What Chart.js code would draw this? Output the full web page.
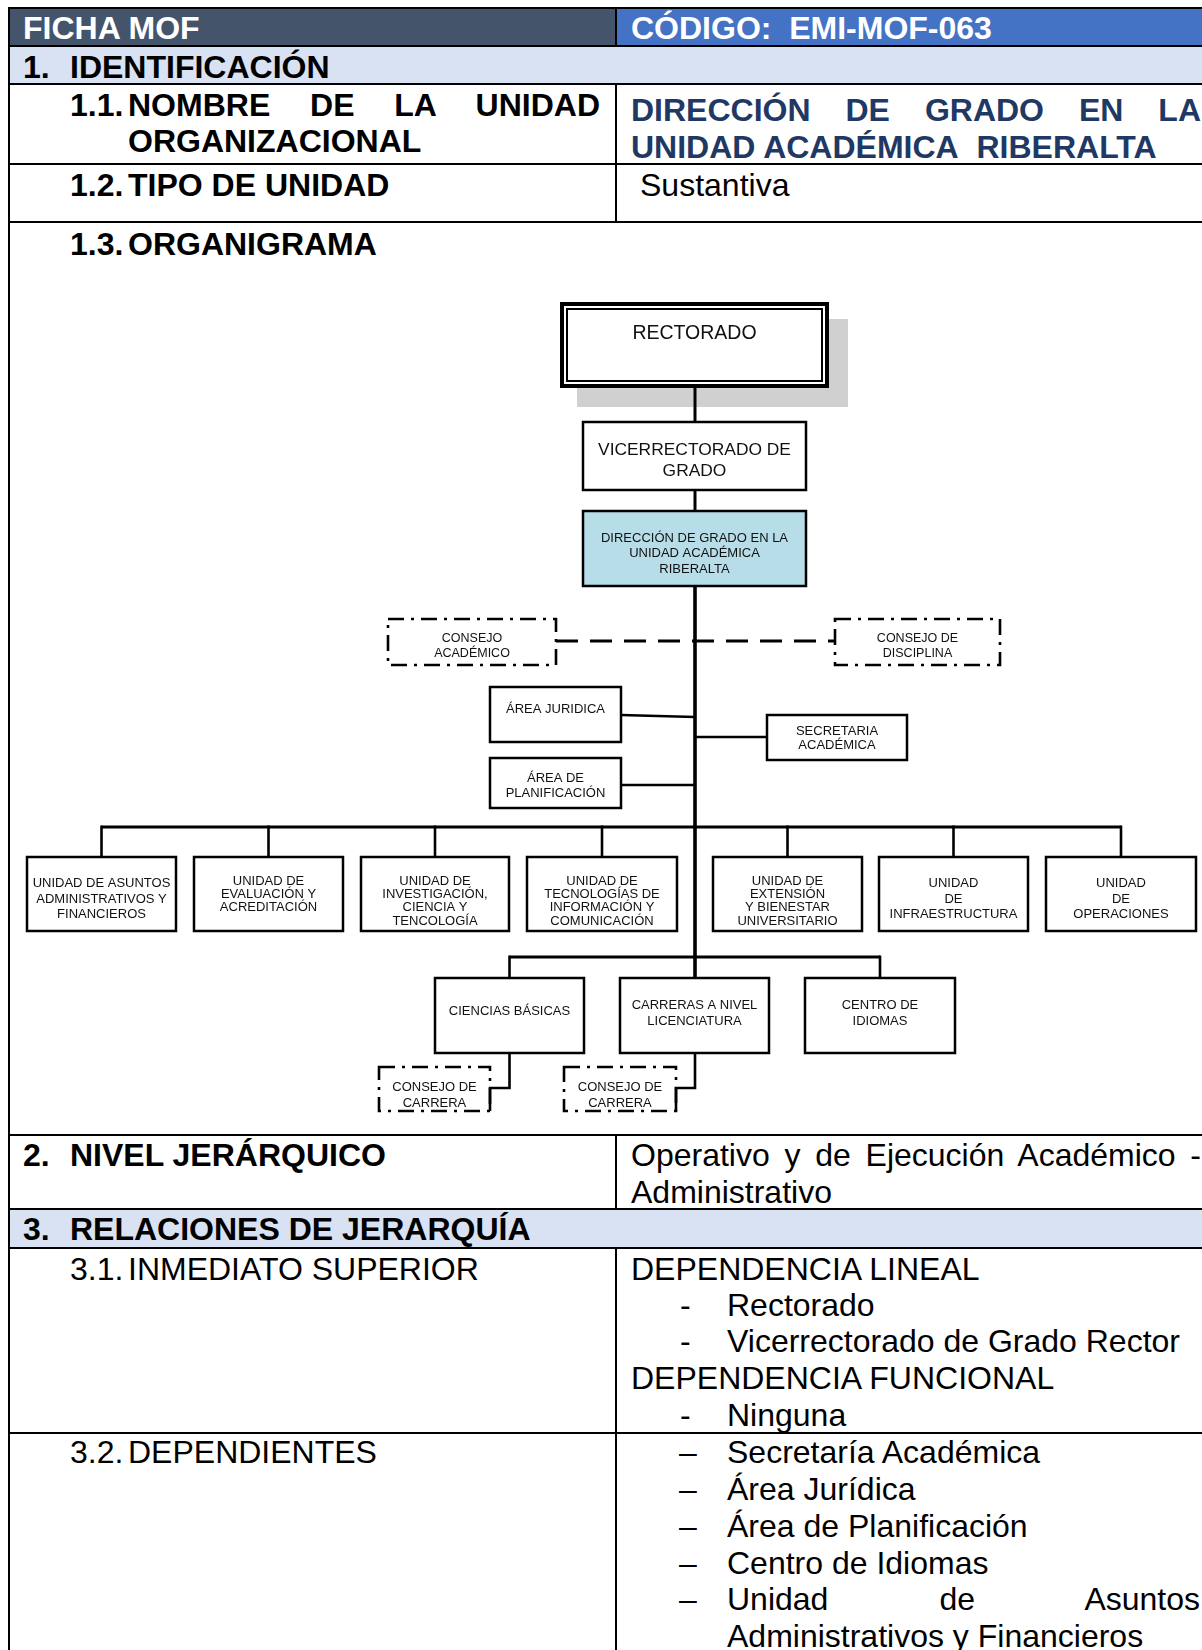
<!DOCTYPE html>
<html lang="es">
<head>
<meta charset="utf-8">
<title>Ficha MOF - EMI-MOF-063</title>
<script src="https://cdn.jsdelivr.net/npm/chart.js@4.4.1/dist/chart.umd.min.js"></script>
<style>
html, body { margin: 0; padding: 0; background: #fff; }
body { width: 1202px; height: 1650px; overflow: hidden; position: relative; font-family: "Liberation Sans", Arial, sans-serif; }
.bg, .hl, .vl, .t { position: absolute; }
.hl { height: 2px; background: #000; left: 8px; width: 1194px; }
.vl { width: 2px; background: #000; }
.t { font-size: 32px; line-height: 36.7px; color: #000; white-space: nowrap; }
.b { font-weight: bold; }
.j { white-space: normal; text-align: justify; }
#org { position: absolute; left: 0; top: 222px; }
</style>
</head>
<body>

<!-- fondos -->
<div class="bg" style="left:8px;top:8px;width:608px;height:38px;background:#44546A"></div>
<div class="bg" style="left:616px;top:8px;width:586px;height:38px;background:#4472C4"></div>
<div class="bg" style="left:8px;top:46px;width:1194px;height:38px;background:#D9E2F3"></div>
<div class="bg" style="left:8px;top:1209px;width:1194px;height:39px;background:#D9E2F3"></div>

<!-- lineas de la tabla -->
<div class="hl" style="top:7px"></div>
<div class="hl" style="top:45px"></div>
<div class="hl" style="top:83px"></div>
<div class="hl" style="top:163px"></div>
<div class="hl" style="top:221px"></div>
<div class="hl" style="top:1134px"></div>
<div class="hl" style="top:1208px"></div>
<div class="hl" style="top:1247px"></div>
<div class="hl" style="top:1432px"></div>
<div class="vl" style="left:8px;top:7px;height:1643px"></div>
<div class="vl" style="left:615px;top:7px;height:39px"></div>
<div class="vl" style="left:615px;top:83px;height:140px"></div>
<div class="vl" style="left:615px;top:1134px;height:75px"></div>
<div class="vl" style="left:615px;top:1247px;height:403px"></div>

<!-- textos -->
<div class="t b" style="left:23px;top:9.5px;color:#fff">FICHA MOF</div>
<div class="t b" style="left:631px;top:9.5px;color:#fff;white-space:pre">CÓDIGO:  EMI-MOF-063</div>

<div class="t b" style="left:23px;top:48.5px">1.</div>
<div class="t b" style="left:70px;top:48.5px">IDENTIFICACIÓN</div>

<div class="t b" style="left:70px;top:87px">1.1.</div>
<div class="t b j" style="left:128px;top:87px;width:472px;line-height:36px">NOMBRE DE LA UNIDAD ORGANIZACIONAL</div>
<div class="t b j" style="left:631px;top:92px;width:570px;color:#1F3864">DIRECCIÓN DE GRADO EN LA UNIDAD ACADÉMICA&nbsp; RIBERALTA</div>

<div class="t b" style="left:70px;top:166.5px">1.2.</div>
<div class="t b" style="left:128px;top:166.5px">TIPO DE UNIDAD</div>
<div class="t" style="left:640px;top:166.5px">Sustantiva</div>

<div class="t b" style="left:70px;top:225.5px">1.3.</div>
<div class="t b" style="left:128px;top:225.5px">ORGANIGRAMA</div>

<div class="t b" style="left:23px;top:1136.5px">2.</div>
<div class="t b" style="left:70px;top:1136.5px">NIVEL JERÁRQUICO</div>
<div class="t j" style="left:631px;top:1136.5px;width:570px;line-height:37.8px">Operativo y de Ejecución Académico - Administrativo</div>

<div class="t b" style="left:23px;top:1210.5px">3.</div>
<div class="t b" style="left:70px;top:1210.5px">RELACIONES DE JERARQUÍA</div>

<div class="t" style="left:70px;top:1250.5px">3.1.</div>
<div class="t" style="left:128px;top:1250.5px">INMEDIATO SUPERIOR</div>
<div class="t" style="left:631px;top:1250.5px">DEPENDENCIA LINEAL</div>
<div class="t" style="left:680px;top:1287px">-</div>
<div class="t" style="left:727px;top:1287px">Rectorado</div>
<div class="t" style="left:680px;top:1323px">-</div>
<div class="t" style="left:727px;top:1323px">Vicerrectorado de Grado Rector</div>
<div class="t" style="left:631px;top:1359.5px">DEPENDENCIA FUNCIONAL</div>
<div class="t" style="left:680px;top:1396.5px">-</div>
<div class="t" style="left:727px;top:1396.5px">Ninguna</div>

<div class="t" style="left:70px;top:1434px">3.2.</div>
<div class="t" style="left:128px;top:1434px">DEPENDIENTES</div>
<div class="t" style="left:679px;top:1434px">–</div>
<div class="t" style="left:727px;top:1434px">Secretaría Académica</div>
<div class="t" style="left:679px;top:1471px">–</div>
<div class="t" style="left:727px;top:1471px">Área Jurídica</div>
<div class="t" style="left:679px;top:1508px">–</div>
<div class="t" style="left:727px;top:1508px">Área de Planificación</div>
<div class="t" style="left:679px;top:1544.5px">–</div>
<div class="t" style="left:727px;top:1544.5px">Centro de Idiomas</div>
<div class="t" style="left:679px;top:1581px">–</div>
<div class="t j" style="left:727px;top:1581px;width:473px">Unidad de Asuntos Administrativos y Financieros</div>

<canvas id="org" width="1202" height="913"></canvas>

<script>
// unidades del organigrama (texto de cada caja)
const nodeLabels = [
  ['RECTORADO'],
  ['VICERRECTORADO DE', 'GRADO'],
  ['DIRECCIÓN DE GRADO EN LA', 'UNIDAD ACADÉMICA', 'RIBERALTA'],
  ['CONSEJO', 'ACADÉMICO'],
  ['CONSEJO DE', 'DISCIPLINA'],
  ['ÁREA JURIDICA'],
  ['ÁREA DE', 'PLANIFICACIÓN'],
  ['SECRETARIA', 'ACADÉMICA'],
  ['UNIDAD DE ASUNTOS', 'ADMINISTRATIVOS Y', 'FINANCIEROS'],
  ['UNIDAD DE', 'EVALUACIÓN Y', 'ACREDITACIÓN'],
  ['UNIDAD DE', 'INVESTIGACIÓN,', 'CIENCIA Y', 'TENCOLOGÍA'],
  ['UNIDAD DE', 'TECNOLOGÍAS DE', 'INFORMACIÓN Y', 'COMUNICACIÓN'],
  ['UNIDAD DE', 'EXTENSIÓN', 'Y BIENESTAR', 'UNIVERSITARIO'],
  ['UNIDAD', 'DE', 'INFRAESTRUCTURA'],
  ['UNIDAD', 'DE', 'OPERACIONES'],
  ['CIENCIAS BÁSICAS'],
  ['CARRERAS A NIVEL', 'LICENCIATURA'],
  ['CENTRO DE', 'IDIOMAS'],
  ['CONSEJO DE', 'CARRERA'],
  ['CONSEJO DE', 'CARRERA']
];
// de quien depende cada unidad (-1 = cabeza)
const nodeParent = [-1, 0, 1, 2, 2, 2, 2, 2, 2, 2, 2, 2, 2, 2, 2, 2, 2, 2, 15, 16];
// tipo: 'top' rectorado, 'main' direccion, 'council' consejo (punteado), 'unit' resto
const nodeKind = ['top', 'unit', 'main', 'council', 'council', 'unit', 'unit', 'unit',
  'unit', 'unit', 'unit', 'unit', 'unit', 'unit', 'unit', 'unit', 'unit', 'unit', 'council', 'council'];

// ---- layout (coordenadas de pagina), aparte de los datos ----
const boxes = [
  [560, 302, 829, 388], [583, 422, 806, 490], [583, 511, 806, 586],
  [388, 619, 556, 665], [835, 619, 1000, 665],
  [490, 687, 621, 742], [490, 758, 621, 808], [767, 715, 907, 760],
  [27, 857, 176, 931], [194, 857, 343, 931], [361, 857, 509, 931], [527, 857, 677, 931],
  [713, 857, 862, 931], [879, 857, 1028, 931], [1046, 857, 1196, 931],
  [435, 978, 584, 1053], [620, 978, 769, 1053], [805, 978, 955, 1053],
  [379, 1067, 490, 1111], [564, 1067, 676, 1111]
];
// centro vertical del texto, interlineado, tamano de letra
const textBox = [
  [331.5, 0, 19.5], [459, 21, 17.4], [552.5, 15.5, 13],
  [645, 15.5, 12.5], [645, 15.5, 12.5],
  [708, 0, 13], [785, 15.5, 13], [737.5, 13.5, 13],
  [898, 15.6, 13], [893.5, 12.8, 13], [900, 13.3, 13], [900, 13.3, 13],
  [900, 13.3, 13], [898, 15.6, 13], [898, 15.6, 13],
  [1010, 0, 13], [1012, 15.8, 13], [1012, 15.8, 13],
  [1094, 16, 13], [1094, 16, 13]
];
const trunkX = 695;
const busY = 827;
const lowBusY = 957;
const councilLinkY = 641;

const cx = i => (boxes[i][0] + boxes[i][2]) / 2;

const orgPlugin = {
  id: 'orgChart',
  afterDatasetsDraw(chart) {
    const ctx = chart.ctx;
    const X = v => chart.scales.x.getPixelForValue(v);
    const Y = v => chart.scales.y.getPixelForValue(v);
    const line = (pts, w, dash) => {
      ctx.beginPath();
      ctx.lineWidth = w;
      ctx.setLineDash(dash || []);
      pts.forEach((p, k) => k ? ctx.lineTo(X(p[0]), Y(p[1])) : ctx.moveTo(X(p[0]), Y(p[1])));
      ctx.stroke();
    };
    ctx.save();
    ctx.strokeStyle = '#000';
    ctx.lineCap = 'butt';

    // sombra del rectorado
    const r = boxes[0];
    ctx.fillStyle = '#D0D0D0';
    ctx.fillRect(X(r[0] + 17), Y(r[1] + 17), X(r[2] + 19) - X(r[0] + 17), Y(r[3] + 19) - Y(r[1] + 17));

    // conectores
    line([[trunkX, boxes[0][3]], [trunkX, boxes[1][1]]], 3);
    line([[trunkX, boxes[1][3]], [trunkX, boxes[2][1]]], 3);
    line([[trunkX, boxes[2][3]], [trunkX, boxes[16][1]]], 3.6);
    line([[boxes[3][2], councilLinkY], [boxes[4][0], councilLinkY]], 3, [22, 12]);
    line([[boxes[5][2], 715], [trunkX, 717]], 2.5);
    line([[boxes[6][2], 785], [trunkX, 785]], 2.5);
    line([[trunkX, 737], [boxes[7][0], 737]], 2.5);
    line([[cx(8), busY], [cx(14), busY]], 3);
    for (let i = 8; i <= 14; i++) line([[cx(i), busY - 1.5], [cx(i), boxes[i][1]]], 2.6);
    line([[cx(15), lowBusY], [cx(17), lowBusY]], 3);
    line([[cx(15), lowBusY - 1.5], [cx(15), boxes[15][1]]], 2.6);
    line([[cx(17), lowBusY - 1.5], [cx(17), boxes[17][1]]], 2.6);
    line([[cx(15), boxes[15][3]], [cx(15), 1088], [boxes[18][2], 1088], [boxes[18][2], boxes[18][3]]], 2.6);
    line([[trunkX, boxes[16][3]], [trunkX, 1088], [boxes[19][2], 1088], [boxes[19][2], boxes[19][3]]], 2.6);

    // cajas
    boxes.forEach((b, i) => {
      const x0 = X(b[0]), y0 = Y(b[1]), w = X(b[2]) - x0, h = Y(b[3]) - y0;
      const kind = nodeKind[i];
      if (kind === 'council') {
        ctx.setLineDash([16, 7, 3, 7]);
        ctx.lineWidth = 2.6;
        ctx.strokeRect(x0, y0, w, h);
      } else {
        ctx.fillStyle = kind === 'main' ? '#B7DDE8' : '#fff';
        ctx.fillRect(x0, y0, w, h);
        ctx.setLineDash([]);
        if (kind === 'top') {
          ctx.lineWidth = 4;
          ctx.strokeRect(x0 + 2, y0 + 2, w - 4, h - 4);
          ctx.lineWidth = 2;
          ctx.strokeRect(x0 + 7, y0 + 7, w - 14, h - 14);
        } else {
          ctx.lineWidth = 2.5;
          ctx.strokeRect(x0, y0, w, h);
        }
      }
    });

    // textos
    ctx.setLineDash([]);
    ctx.fillStyle = '#111';
    ctx.textAlign = 'center';
    ctx.textBaseline = 'alphabetic';
    nodeLabels.forEach((lines, i) => {
      const [tc, lh, fs] = textBox[i];
      ctx.font = fs + 'px "Liberation Sans", Arial, sans-serif';
      const first = tc - (lines.length - 1) * lh / 2;
      lines.forEach((txt, k) => {
        ctx.fillText(txt, X(cx(i)), Y(first + k * lh) + 0.36 * fs);
      });
    });
    ctx.restore();
  }
};

new Chart(document.getElementById('org'), {
  type: 'scatter',
  data: {
    datasets: [{
      label: 'Unidades',
      data: nodeLabels.map((l, i) => ({ x: cx(i), y: (boxes[i][1] + boxes[i][3]) / 2 })),
      pointRadius: 0
    }]
  },
  options: {
    responsive: false,
    animation: false,
    devicePixelRatio: 1,
    layout: { padding: 0 },
    events: [],
    scales: {
      x: { type: 'linear', min: 0, max: 1202, display: false },
      y: { type: 'linear', min: 222, max: 1135, reverse: true, display: false }
    },
    plugins: { legend: { display: false }, tooltip: { enabled: false } }
  },
  plugins: [orgPlugin]
});
</script>
</body>
</html>
